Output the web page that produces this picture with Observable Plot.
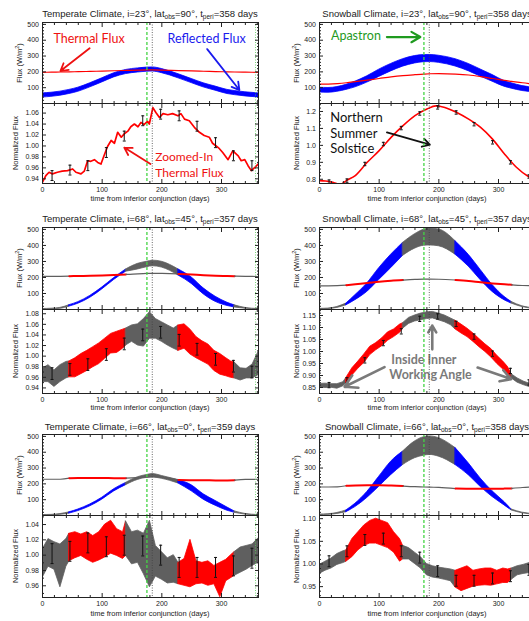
<!DOCTYPE html>
<html><head><meta charset="utf-8">
<script src="https://cdn.jsdelivr.net/npm/d3@7"></script>
<script src="https://cdn.jsdelivr.net/npm/@observablehq/plot@0.6"></script>
<style>
html,body{margin:0;padding:0;background:#fff;overflow:hidden;width:529px;height:621px}
#root{position:relative;width:529px;height:621px;overflow:hidden;font-family:"Liberation Sans",Arial,sans-serif;color:#222}
.lab{position:absolute;white-space:nowrap;transform:translate(-50%,-50%);line-height:1}
.title{font-size:9.5px}
.title sub{font-size:6.5px;vertical-align:-2px}
.axt{font-size:7.5px}
.rot{transform:translate(-50%,-50%) rotate(-90deg)}
.rot sup{font-size:5.5px;vertical-align:3px}
</style></head><body><div id="root"></div>
<script>
// ---------- shared axes / markers ----------
const X_DOMAIN = [0, 362];
const X_MAJOR = [0, 100, 200, 300];
const X_MINOR = [20,40,60,80,120,140,160,180,220,240,260,280,320,340,360];
const APASTRON_DAY = 175;
const SOLSTICE_DAY = 184;
const PERI_DAY = 357;
const VIS_WINDOWS = [[45, 140], [228, 322]];
const ERR_DAYS = [16,46,76,107,137,168,198,229,259,290,320,351];

// ---------- top panels: flux (W/m^2) ----------
const TOP_DAYS = [0,15,30,45,60,80,100,120,140,160,175,185,200,228,250,270,290,310,322,340,362];
const FLUX_TICKS = [100,200,300,400,500];
const FLUX_MINOR = [20,40,60,80,120,140,160,180,220,240,260,280,320,340,360,380,420,440,460,480,500];

// Temperate, i=23
const A_REFL_LO = [38,42,49,60,74,102,133,165,186,196,201,202,192,159,129,102,81,60,53,45,38];
const A_REFL_HI = [64,68,75,86,100,128,159,191,212,222,227,228,218,185,155,128,107,86,79,71,64];
const A_THERM   = [197,198,199,200,201,203,205,207,209,211,212,212,211,208,206,204,202,200,199,198,197];
// Snowball, i=23
const B_REFL_LO = [70,68,74,86,102,132,168,203,233,253,261,262,257,234,204,170,138,106,94,79,70];
const B_REFL_HI = [100,98,104,118,138,172,214,250,280,300,306,307,302,280,250,215,180,142,128,110,100];
const B_THERM   = [122,123,126,131,138,148,158,168,176,182,186,188,189,186,180,170,158,146,140,131,122];
// Temperate, i=68
const C_REFL_LO = [0,1,4,18,36,73,125,184,236,250,264,270,262,212,160,95,48,22,13,5,1];
const C_REFL_HI = [3,5,10,27,46,85,137,196,250,285,298,305,298,250,200,132,80,42,26,10,3];
const C_THERM   = [207,207,207,208,209,210,212,215,219,223,225,226,225,222,218,214,211,209,208,207,206];
// Snowball, i=68
const D_REFL_LO = [1,3,10,26,58,110,184,258,335,380,398,400,395,342,268,184,110,58,37,15,4];
const D_REFL_HI = [4,6,16,37,89,163,258,342,416,470,498,505,500,426,342,247,153,79,47,20,7];
const D_THERM   = [148,148,149,152,157,165,174,180,184,188,190,190,189,184,178,170,163,157,154,150,148];
// Temperate, i=66
const E_REFL_LO = [0,1,4,12,28,58,100,152,192,225,238,240,232,202,153,100,62,30,17,6,1];
const E_REFL_HI = [3,4,9,20,38,70,112,166,206,242,256,262,250,224,191,134,92,50,26,10,3];
const E_THERM   = [229,229,229,236,237,237,237,236,236,240,243,245,242,224,223,223,222,222,223,228,229];
// Snowball, i=66
const F_REFL_LO = [3,4,10,21,53,111,181,255,319,362,378,383,372,319,255,181,117,64,32,14,6];
const F_REFL_HI = [6,8,16,32,74,149,245,340,404,468,495,500,489,426,330,234,153,85,38,18,9];
const F_THERM   = [180,180,181,188,190,191,191,189,186,182,180,179,178,170,169,169,169,170,171,177,180];

// ---------- bottom panels: normalized flux ----------
const A_NORM_DAYS = [0,5.6,11,16.7,25,33,42,50.5,56,64.5,70,75.6,81,87,92.5,98,104,109,115,120.6,126,132,137,143,148,154,160,165,170,176,179,185,190,196,202,210,218,227,232,238,246,254.5,263,271,279.5,285,291,296.5,302,311,319,328,333,339,344.5,350,356,364];
const A_NORM_VALS = [0.934,0.946,0.952,0.949,0.952,0.954,0.955,0.958,0.952,0.949,0.954,0.973,0.972,0.975,0.970,0.967,0.985,0.999,1.010,1.005,1.025,1.016,1.022,1.027,1.035,1.040,1.035,1.043,1.039,1.045,1.040,1.070,1.061,1.052,1.059,1.057,1.059,1.055,1.059,1.049,1.046,1.034,1.025,1.019,1.016,1.005,1.000,0.995,0.988,0.975,0.991,0.982,0.973,0.975,0.964,0.955,0.961,0.970];
const B_NORM_DAYS = [0,10,20,35,45,60,80,100,120,140,160,180,195,210,230,250,270,290,310,330,350,362];
const B_NORM_VALS = [0.792,0.790,0.783,0.770,0.792,0.822,0.900,0.969,1.047,1.116,1.175,1.214,1.233,1.224,1.194,1.155,1.106,1.037,0.949,0.871,0.816,0.795];

const BOT_DAYS = [0,10,20,30,40,45,55,65,75,85,95,105,115,125,135,140,150,160,170,180,190,200,210,220,228,238,248,258,268,278,288,298,308,316,322,332,342,352,362];
const C_NORM_LO = [0.951,0.951,0.942,0.951,0.958,0.960,0.960,0.966,0.972,0.979,0.985,0.995,1.005,1.006,1.014,1.020,1.027,1.020,1.018,1.033,1.033,1.027,1.020,1.014,1.010,1.014,1.003,0.996,0.990,0.984,0.972,0.965,0.962,0.959,0.958,0.954,0.958,0.958,0.964];
const C_NORM_HI = [0.976,0.983,0.973,0.983,0.989,0.990,0.996,1.004,1.010,1.017,1.024,1.033,1.042,1.046,1.050,1.052,1.058,1.060,1.070,1.083,1.070,1.064,1.058,1.052,1.058,1.060,1.050,1.036,1.028,1.022,1.010,1.004,0.996,0.990,0.988,0.977,0.976,0.984,1.008];
const D_NORM_LO = [0.850,0.848,0.849,0.845,0.855,0.868,0.900,0.928,0.952,0.985,1.005,1.022,1.045,1.060,1.078,1.095,1.115,1.125,1.130,1.135,1.138,1.130,1.122,1.110,1.092,1.075,1.060,1.040,1.018,0.998,0.975,0.948,0.925,0.900,0.888,0.870,0.860,0.852,0.846];
const D_NORM_HI = [0.865,0.866,0.864,0.864,0.872,0.890,0.930,0.958,0.988,1.020,1.035,1.055,1.080,1.092,1.112,1.118,1.140,1.150,1.158,1.163,1.165,1.158,1.150,1.138,1.128,1.112,1.095,1.075,1.052,1.030,1.010,0.982,0.958,0.935,0.905,0.888,0.875,0.866,0.860];
const E_NORM_LO = [0.970,0.985,0.981,0.958,0.985,0.992,0.996,0.999,0.994,0.990,0.993,0.997,1.002,0.999,0.995,0.999,0.988,0.990,0.975,0.958,0.972,0.968,0.963,0.964,0.962,0.960,0.958,0.962,0.963,0.960,0.962,0.945,0.966,0.970,0.973,0.977,0.981,0.986,0.990];
const E_NORM_HI = [1.007,1.021,1.017,1.014,1.021,1.028,1.030,1.027,1.030,1.025,1.030,1.040,1.045,1.034,1.030,1.044,1.030,1.032,1.028,1.045,1.012,1.004,0.996,1.000,0.990,0.995,1.020,0.992,0.990,0.992,0.986,0.990,0.994,1.000,1.004,1.010,1.012,1.014,1.022];
const F_NORM_LO = [0.978,0.985,0.990,0.998,1.002,1.005,1.015,1.030,1.040,1.045,1.045,1.040,1.035,1.025,1.005,1.010,1.010,1.000,0.990,0.975,0.970,0.968,0.965,0.962,0.948,0.940,0.945,0.950,0.952,0.953,0.952,0.955,0.958,0.958,0.965,0.975,0.978,0.980,0.982];
const F_NORM_HI = [0.998,1.005,1.012,1.022,1.028,1.030,1.055,1.070,1.085,1.095,1.100,1.095,1.090,1.070,1.055,1.040,1.035,1.025,1.015,1.000,0.995,0.992,0.990,0.988,0.985,0.990,0.995,0.985,0.988,0.990,0.990,0.985,0.990,0.988,0.990,0.995,0.998,1.002,1.008];

const A_ERR = [0.946,0.956,0.964,0.988,1.018,1.046,1.058,1.055,1.036,1.006,0.982,0.964];
const B_ERR = [0.786,0.792,0.890,1.008,1.102,1.188,1.224,1.194,1.125,1.018,0.900,0.816];
const C_ERR = [0.967,0.975,0.984,1.003,1.023,1.040,1.045,1.030,1.013,0.994,0.981,0.970];
const D_ERR = [0.860,0.880,0.963,1.035,1.084,1.136,1.146,1.115,1.062,0.991,0.919,0.871];
const E_ERR = [1.002,1.005,1.016,1.011,1.013,1.012,1.000,0.984,0.984,0.984,0.986,0.996];
const F_ERR = [1.006,1.028,1.053,1.056,1.028,1.014,0.984,0.963,0.963,0.968,0.973,0.987];

// ---------- titles ----------
const CLIMATES = ["Temperate Climate", "Snowball Climate"];
const INCL = ["23", "68", "66"];
const LAT_OBS = ["90", "45", "0"];
const T_PERI = [["358","358"],["357","357"],["359","358"]];

// ---------- annotations (data coordinates of their panel) ----------
const ANN_A_TOP = [
  {x: 78, y: 406, text: "Thermal Flux", color: "#ee1111"},
  {x: 275, y: 406, text: "Reflected Flux", color: "#1a1aee"}];
const ARR_A_TOP = [
  {x1: 79, y1: 349, x2: 30, y2: 205, color: "#ee1111"},
  {x1: 276, y1: 344, x2: 330, y2: 85, color: "#1a1aee"}];
const ANN_A_BOT = [
  {x: 189, y: 0.979, text: "Zoomed-In", color: "#ee1111"},
  {x: 189, y: 0.951, text: "Thermal Flux", color: "#ee1111"}];
const ARR_A_BOT = [{x1: 181, y1: 0.967, x2: 137, y2: 0.997, color: "#ee1111"}];
const ANN_B_TOP = [{x: 61, y: 425, text: "Apastron", color: "#1f9a1f"}];
const ARR_B_TOP = [{x1: 113, y1: 420, x2: 169, y2: 420, color: "#1f9a1f"}];
const ANN_B_BOT = [
  {x: 18, y: 1.161, text: "Northern", color: "#111"},
  {x: 18, y: 1.067, text: "Summer", color: "#111"},
  {x: 18, y: 0.979, text: "Solstice", color: "#111"}];
const ARR_B_BOT = [{x1: 113, y1: 1.076, x2: 185, y2: 1.004, color: "#111"}];
const ANN_D_BOT = [
  {x: 175, y: 0.963, text: "Inside Inner", color: "#7a7a7a"},
  {x: 186, y: 0.901, text: "Working Angle", color: "#7a7a7a"}];
const ARR_D_BOT = [
  {x1: 189, y1: 1.009, x2: 189, y2: 1.108, color: "#7a7a7a"},
  {x1: 109, y1: 0.935, x2: 42, y2: 0.853, color: "#7a7a7a"},
  {x1: 265, y1: 0.933, x2: 321, y2: 0.885, color: "#7a7a7a"}];

// ---------- drawing ----------
const RED = "#ff0000", BLUE = "#0000ff", GRAY = "#5f5f5f";
const root = document.getElementById("root");

function segments(rows, split) {
  if (!split) return [{vis: true, rows}];
  const edges = [-Infinity, ...VIS_WINDOWS.flat(), Infinity];
  const out = [];
  for (let i = 0; i < edges.length - 1; i++) {
    const a = edges[i], b = edges[i + 1];
    out.push({vis: i % 2 === 1, rows: rows.filter(d => d.t >= a && d.t <= b)});
  }
  return out;
}

function axes(yTicks, yMinor, yFmt, showX) {
  const empty = () => "";
  return [
    Plot.axisX({anchor: "bottom", ticks: X_MAJOR, tickSize: -4, tickPadding: 7.5, fontSize: 7, tickFormat: showX ? d => String(d) : empty, label: null}),
    Plot.axisX({anchor: "bottom", ticks: X_MINOR, tickSize: -2, tickFormat: empty, label: null}),
    Plot.axisX({anchor: "top", ticks: X_MAJOR, tickSize: -4, tickFormat: empty, label: null}),
    Plot.axisX({anchor: "top", ticks: X_MINOR, tickSize: -2, tickFormat: empty, label: null}),
    Plot.axisY({anchor: "left", ticks: yTicks, tickSize: -4, tickPadding: 7.5, fontSize: 7, tickFormat: yFmt, label: null}),
    Plot.axisY({anchor: "left", ticks: yMinor, tickSize: -2, tickFormat: empty, label: null}),
    Plot.axisY({anchor: "right", ticks: yTicks, tickSize: -4, tickFormat: empty, label: null}),
    Plot.axisY({anchor: "right", ticks: yMinor, tickSize: -2, tickFormat: empty, label: null}),
    Plot.frame({stroke: "#222", strokeWidth: 1})
  ];
}

function refLines() {
  return [
    Plot.ruleX([APASTRON_DAY], {stroke: "#44d444", strokeWidth: 1.3, strokeDasharray: "3,2"}),
    Plot.ruleX([SOLSTICE_DAY], {stroke: "#444", strokeWidth: 0.8, strokeDasharray: "1,1.5"}),
    Plot.ruleX([PERI_DAY], {stroke: "#55cc55", strokeWidth: 0.8, strokeDasharray: "1,1.5"})
  ];
}

function annotations(texts, arrows, opts) {
  const m = [];
  for (const a of arrows || []) {
    m.push(Plot.arrow([a], {x1: "x1", y1: "y1", x2: "x2", y2: "y2", stroke: a.color, strokeWidth: opts.aw || 1.8, headLength: opts.hl || 7}));
  }
  for (const t of texts || []) {
    m.push(Plot.text([t], {x: "x", y: "y", text: "text", fill: t.color, fontSize: opts.fs || 12.5,
      fontFamily: "Lato, 'Open Sans', sans-serif", fontWeight: opts.fw || "normal", textAnchor: opts.anchor || "middle"}));
  }
  return m;
}

function place(svg, left, top) {
  svg.style.position = "absolute";
  svg.style.left = left + "px";
  svg.style.top = top + "px";
  root.appendChild(svg);
}

const PLOT_W = 216, ML = 42, MR = 8;
function makePanel({col, top, h, yDomain, yTicks, yMinor, yFmt, bottom, marks}) {
  const mt = 4, mb = bottom ? 14 : 4;
  const svg = Plot.plot({
    width: ML + PLOT_W + MR, height: h + mt + mb,
    marginLeft: ML, marginRight: MR, marginTop: mt, marginBottom: mb,
    style: {background: "transparent", overflow: "visible", fontFamily: "'Liberation Sans', Arial, sans-serif", fontSize: "7px", color: "#222"},
    x: {domain: X_DOMAIN, label: null},
    y: {domain: yDomain, label: null},
    marks: [...marks, ...refLines(), ...axes(yTicks, yMinor, yFmt, bottom)]
  });
  place(svg, col === 0 ? 0 : 277, top - mt);
}

function topMarks(lo, hi, therm, split) {
  const refl = TOP_DAYS.map((t, i) => ({t, lo: lo[i], hi: hi[i]}));
  const th = TOP_DAYS.map((t, i) => ({t, v: therm[i]}));
  const m = [];
  for (const s of segments(refl, split)) {
    const c = s.vis ? BLUE : GRAY;
    m.push(Plot.areaY(s.rows, {x: "t", y1: "lo", y2: "hi", fill: c, stroke: c, strokeWidth: 0.8, curve: "monotone-x", clip: true}));
  }
  for (const s of segments(th, split)) {
    m.push(Plot.lineY(s.rows, {x: "t", y: "v", stroke: s.vis ? RED : GRAY, strokeWidth: s.vis && split ? 2 : 1.2, curve: "monotone-x", clip: true}));
  }
  return m;
}

function bandMarks(lo, hi, split) {
  const rows = BOT_DAYS.map((t, i) => ({t, lo: lo[i], hi: hi[i]}));
  return segments(rows, split).map(s => {
    const c = s.vis ? RED : GRAY;
    return Plot.areaY(s.rows, {x: "t", y1: "lo", y2: "hi", fill: c, stroke: c, strokeWidth: 0.8, clip: true});
  });
}

function errMarks(vals, half) {
  const rows = ERR_DAYS.map((t, i) => ({t, v: vals[i], lo: vals[i] - half, hi: vals[i] + half}));
  return [
    Plot.ruleX(rows, {x: "t", y1: "lo", y2: "hi", stroke: "#111", strokeWidth: 1}),
    Plot.link(rows, {x1: d => d.t - 2.5, x2: d => d.t + 2.5, y1: "lo", y2: "lo", stroke: "#111", strokeWidth: 1}),
    Plot.link(rows, {x1: d => d.t - 2.5, x2: d => d.t + 2.5, y1: "hi", y2: "hi", stroke: "#111", strokeWidth: 1})
  ];
}

const fmt2 = d => d.toFixed(2), fmt1 = d => d.toFixed(1), fmt0 = d => String(d);
const TOP_Y = [0, 512];

// Row layout (pixel rows of each plot area)
const ROWS = [
  {top: 22, topH: 81, bot: 103, botH: 80, axY: 199},
  {top: 227, topH: 82, bot: 309, botH: 84, axY: 408},
  {top: 434, topH: 81, bot: 515, botH: 82, axY: 614}
];

// --- Row 1 ---
makePanel({col: 0, top: ROWS[0].top, h: ROWS[0].topH, yDomain: TOP_Y, yTicks: FLUX_TICKS, yMinor: FLUX_MINOR, yFmt: fmt0, bottom: false,
  marks: [...topMarks(A_REFL_LO, A_REFL_HI, A_THERM, false), ...annotations(ANN_A_TOP, ARR_A_TOP, {})]});
makePanel({col: 0, top: ROWS[0].bot, h: ROWS[0].botH, yDomain: [0.9315, 1.0775], yTicks: [0.94,0.96,0.98,1.00,1.02,1.04,1.06], yMinor: [0.95,0.97,0.99,1.01,1.03,1.05,1.07], yFmt: fmt2, bottom: true,
  marks: [Plot.lineY(A_NORM_DAYS.map((t, i) => ({t, v: A_NORM_VALS[i]})), {x: "t", y: "v", stroke: RED, strokeWidth: 1.7, clip: true}),
          ...errMarks(A_ERR, 0.009), ...annotations(ANN_A_BOT, ARR_A_BOT, {anchor: "start", fs: 12})]});
makePanel({col: 1, top: ROWS[0].top, h: ROWS[0].topH, yDomain: TOP_Y, yTicks: FLUX_TICKS, yMinor: FLUX_MINOR, yFmt: fmt0, bottom: false,
  marks: [...topMarks(B_REFL_LO, B_REFL_HI, B_THERM, false), ...annotations(ANN_B_TOP, ARR_B_TOP, {aw: 2.2})]});
makePanel({col: 1, top: ROWS[0].bot, h: ROWS[0].botH, yDomain: [0.775, 1.247], yTicks: [0.8,0.9,1.0,1.1,1.2], yMinor: [0.82,0.84,0.86,0.88,0.92,0.94,0.96,0.98,1.02,1.04,1.06,1.08,1.12,1.14,1.16,1.18,1.22,1.24], yFmt: fmt1, bottom: true,
  marks: [Plot.lineY(B_NORM_DAYS.map((t, i) => ({t, v: B_NORM_VALS[i]})), {x: "t", y: "v", stroke: RED, strokeWidth: 1.6, curve: "monotone-x", clip: true}),
          ...errMarks(B_ERR, 0.01), ...annotations(ANN_B_BOT, ARR_B_BOT, {anchor: "start", fs: 13})]});

// --- Row 2 ---
makePanel({col: 0, top: ROWS[1].top, h: ROWS[1].topH, yDomain: TOP_Y, yTicks: FLUX_TICKS, yMinor: FLUX_MINOR, yFmt: fmt0, bottom: false,
  marks: topMarks(C_REFL_LO, C_REFL_HI, C_THERM, true)});
makePanel({col: 0, top: ROWS[1].bot, h: ROWS[1].botH, yDomain: [0.9295, 1.088], yTicks: [0.94,0.96,0.98,1.00,1.02,1.04,1.06,1.08], yMinor: [0.95,0.97,0.99,1.01,1.03,1.05,1.07], yFmt: fmt2, bottom: true,
  marks: [...bandMarks(C_NORM_LO, C_NORM_HI, true), ...errMarks(C_ERR, 0.011)]});
makePanel({col: 1, top: ROWS[1].top, h: ROWS[1].topH, yDomain: TOP_Y, yTicks: FLUX_TICKS, yMinor: FLUX_MINOR, yFmt: fmt0, bottom: false,
  marks: topMarks(D_REFL_LO, D_REFL_HI, D_THERM, true)});
makePanel({col: 1, top: ROWS[1].bot, h: ROWS[1].botH, yDomain: [0.825, 1.175], yTicks: [0.85,0.90,0.95,1.00,1.05,1.10,1.15], yMinor: [0.86,0.87,0.88,0.89,0.91,0.92,0.93,0.94,0.96,0.97,0.98,0.99,1.01,1.02,1.03,1.04,1.06,1.07,1.08,1.09,1.11,1.12,1.13,1.14,1.16,1.17], yFmt: fmt2, bottom: true,
  marks: [...bandMarks(D_NORM_LO, D_NORM_HI, true), ...errMarks(D_ERR, 0.011), ...annotations(ANN_D_BOT, ARR_D_BOT, {fw: "bold", fs: 12.5, aw: 2.6, hl: 8})]});

// --- Row 3 ---
makePanel({col: 0, top: ROWS[2].top, h: ROWS[2].topH, yDomain: TOP_Y, yTicks: FLUX_TICKS, yMinor: FLUX_MINOR, yFmt: fmt0, bottom: false,
  marks: topMarks(E_REFL_LO, E_REFL_HI, E_THERM, true)});
makePanel({col: 0, top: ROWS[2].bot, h: ROWS[2].botH, yDomain: [0.9447, 1.0518], yTicks: [0.96,0.98,1.00,1.02,1.04], yMinor: [0.95,0.97,0.99,1.01,1.03,1.05], yFmt: fmt2, bottom: true,
  marks: [...bandMarks(E_NORM_LO, E_NORM_HI, true), ...errMarks(E_ERR, 0.013)]});
makePanel({col: 1, top: ROWS[2].top, h: ROWS[2].topH, yDomain: TOP_Y, yTicks: FLUX_TICKS, yMinor: FLUX_MINOR, yFmt: fmt0, bottom: false,
  marks: topMarks(F_REFL_LO, F_REFL_HI, F_THERM, true)});
makePanel({col: 1, top: ROWS[2].bot, h: ROWS[2].botH, yDomain: [0.926, 1.107], yTicks: [0.95,1.00,1.05,1.10], yMinor: [0.93,0.94,0.96,0.97,0.98,0.99,1.01,1.02,1.03,1.04,1.06,1.07,1.08,1.09], yFmt: fmt2, bottom: true,
  marks: [...bandMarks(F_NORM_LO, F_NORM_HI, true), ...errMarks(F_ERR, 0.012)]});

// ---------- HTML labels ----------
function label(html, x, y, cls) {
  const d = document.createElement("div");
  d.className = "lab " + cls;
  d.innerHTML = html;
  d.style.left = x + "px";
  d.style.top = y + "px";
  root.appendChild(d);
}
const TITLE_Y = [15, 220, 427.5];
const COL_CX = [150, 427];
ROWS.forEach((r, ri) => {
  [0, 1].forEach(ci => {
    label(`${CLIMATES[ci]}, i=${INCL[ri]}°, lat<sub>obs</sub>=${LAT_OBS[ri]}°, t<sub>peri</sub>=${T_PERI[ri][ci]} days`, COL_CX[ci], TITLE_Y[ri], "title");
    label("time from inferior conjunction (days)", COL_CX[ci], r.axY, "axt");
    label("Flux (W/m<sup>2</sup>)", ci === 0 ? 19 : 296, r.top + r.topH / 2, "axt rot");
    label("Normalized Flux", ci === 0 ? 16 : 297, r.bot + r.botH / 2, "axt rot");
  });
});
</script></body></html>
